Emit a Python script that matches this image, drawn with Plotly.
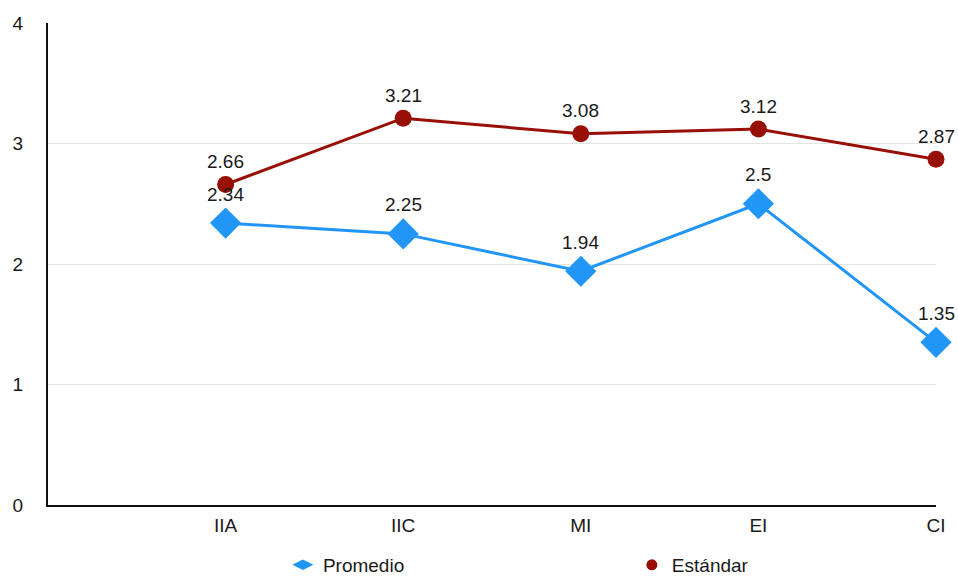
import plotly.graph_objects as go

# Categories and series values
categories = ["IIA", "IIC", "MI", "EI", "CI"]
promedio = [2.34, 2.25, 1.94, 2.5, 1.35]
estandar = [2.66, 3.21, 3.08, 3.12, 2.87]
y_ticks = [0, 1, 2, 3, 4]

BLUE = "#2196f7"
RED = "#980f05"
FONT = "Liberation Sans, Arial, Helvetica, sans-serif"
TEXT_COLOR = "#1a1a1a"
FS = 19

fig = go.Figure()

fig.add_trace(go.Scatter(
    x=categories, y=promedio, mode="lines+markers", name="Promedio",
    line=dict(color=BLUE, width=3),
    marker=dict(symbol="diamond", size=24, color=BLUE),
    cliponaxis=False, showlegend=False,
))
fig.add_trace(go.Scatter(
    x=categories, y=estandar, mode="lines+markers", name="Estándar",
    line=dict(color=RED, width=3),
    marker=dict(symbol="circle", size=17, color=RED),
    cliponaxis=False, showlegend=False,
))

# Legend entries, each in its own legend box
fig.add_trace(go.Scatter(
    x=[None], y=[None], mode="markers", name="Promedio", legend="legend",
    marker=dict(symbol="diamond-wide", size=15, color=BLUE),
))
fig.add_trace(go.Scatter(
    x=[None], y=[None], mode="markers", name="Estándar", legend="legend2",
    marker=dict(symbol="circle", size=11, color=RED),
))

# Value labels above each point
annotations = []
for cat, v in zip(categories, promedio):
    annotations.append(dict(
        x=cat, y=v, text=f"{v:g}", showarrow=False, yshift=29,
        font=dict(family=FONT, size=FS, color=TEXT_COLOR),
    ))
for cat, v in zip(categories, estandar):
    annotations.append(dict(
        x=cat, y=v, text=f"{v:g}", showarrow=False, yshift=23,
        font=dict(family=FONT, size=FS, color=TEXT_COLOR),
    ))

legend_style = dict(
    orientation="h", yanchor="middle", y=-0.1245, xanchor="left",
    font=dict(family=FONT, size=FS, color=TEXT_COLOR),
    bgcolor="rgba(0,0,0,0)", borderwidth=0,
)

fig.update_layout(
    width=958, height=577,
    margin=dict(l=48, r=22, t=23, b=72, autoexpand=False),
    paper_bgcolor="white", plot_bgcolor="white",
    font=dict(family=FONT, size=FS, color=TEXT_COLOR),
    annotations=annotations,
    legend=dict(legend_style, x=0.2645),
    legend2=dict(legend_style, x=0.6575),
    xaxis=dict(
        type="category", categoryorder="array", categoryarray=categories,
        range=[-1, len(categories) - 1],
        showline=True, linecolor="#111111", linewidth=2,
        showgrid=False, zeroline=False,
        ticks="outside", ticklen=2, tickcolor="rgba(0,0,0,0)",
        tickfont=dict(family=FONT, size=FS, color=TEXT_COLOR),
    ),
    yaxis=dict(
        range=[0, 4], tickvals=y_ticks,
        showline=True, linecolor="#111111", linewidth=2,
        showgrid=True, gridcolor="#e4e4e4", gridwidth=1, zeroline=False,
        ticks="outside", ticklen=19, tickcolor="rgba(0,0,0,0)",
        tickfont=dict(family=FONT, size=FS, color=TEXT_COLOR),
    ),
)

fig.write_html("out.html")
